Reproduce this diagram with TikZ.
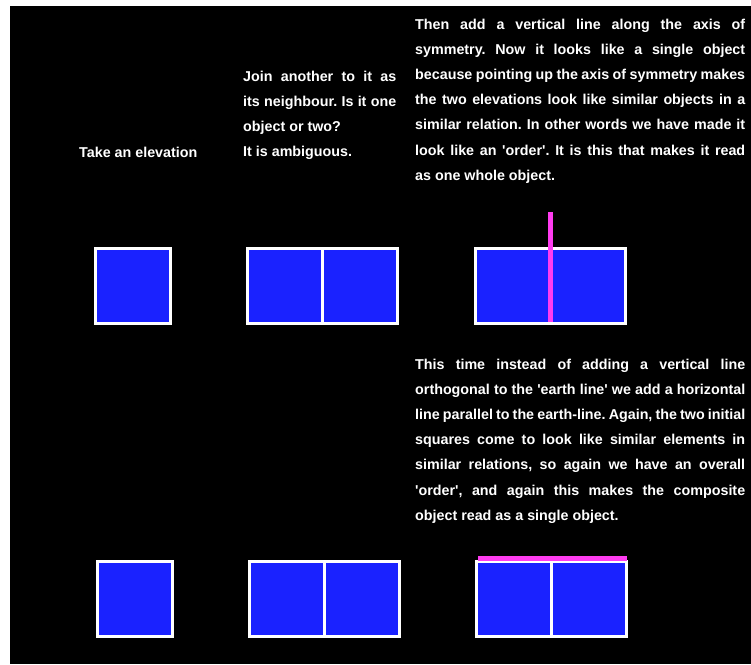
\documentclass[tikz,border=0pt]{standalone}
\usepackage{fontspec}
\setmainfont{Liberation Sans}
\usetikzlibrary{positioning}
\definecolor{elevblue}{HTML}{1A22FF}
\definecolor{axispink}{HTML}{FF3CF0}
\newcommand{\sq}{\textquotesingle}
\tikzset{
  elevation/.style={draw=white,line width=3pt,fill=elevblue,minimum size=75pt,inner sep=0pt,outer sep=0pt},
  axisline/.style={draw=axispink,line width=5pt},
  notetext/.style={anchor=base west,inner sep=0pt,text=white,font=\bfseries\fontsize{14.3}{25.2}\selectfont\sloppy\frenchspacing,align=justify},
}
\begin{document}
\begin{tikzpicture}[x=1pt,y=-1pt]
  \useasboundingbox (0,0) rectangle (751,664);
  \fill[white] (0,0) rectangle (751,664);
  \fill[black] (10,6) rectangle (751,664);
  % texts
  \node[notetext] (take) at (79,157) {Take an elevation};
  \node[notetext,text width=153pt] (join) at (243,81) {Join another to it as\linebreak its neighbour. Is it one\linebreak object or two?\\It is ambiguous.};
  \node[notetext,text width=330pt] (axisnote) at (415,29) {Then add a vertical line along the axis of\linebreak symmetry. Now it looks like a single object\linebreak because pointing up the axis of symmetry makes\linebreak the two elevations look like similar objects in a\linebreak similar relation. In other words we have made it\linebreak look like an \sq order\sq. It is this that makes it read\linebreak as one whole object.};
  \node[notetext,text width=330pt] (earthnote) at (415,369) {This time instead of adding a vertical line\linebreak orthogonal to the \sq earth line\sq{} we add a horizontal\linebreak line parallel to the earth-line. Again, the two initial\linebreak squares come to look like similar elements in\linebreak similar relations, so again we have an overall\linebreak \sq order\sq, and again this makes the composite\linebreak object read as a single object.};
  % first row
  \node[elevation] (a1) at (132.5,286) {};
  \node[elevation] (b1) at (285,286) {};
  \node[elevation,right=0pt of b1] (b2) {};
  \node[elevation] (c1) at (513,286) {};
  \node[elevation,right=0pt of c1] (c2) {};
  \coordinate (axistop) at (550.5,212);
  \draw[axisline] (axistop) -- ([yshift=1.5pt]c1.south east);
  % second row
  \node[elevation] (d1) at (134.5,599) {};
  \node[elevation] (e1) at (287,599) {};
  \node[elevation,right=0pt of e1] (e2) {};
  \node[elevation] (f1) at (514,599) {};
  \node[elevation,right=0pt of f1] (f2) {};
  \draw[axisline] ([shift={(1.5pt,3pt)}]f1.north west) -- ([yshift=3pt]f2.north east);
\end{tikzpicture}
\end{document}
